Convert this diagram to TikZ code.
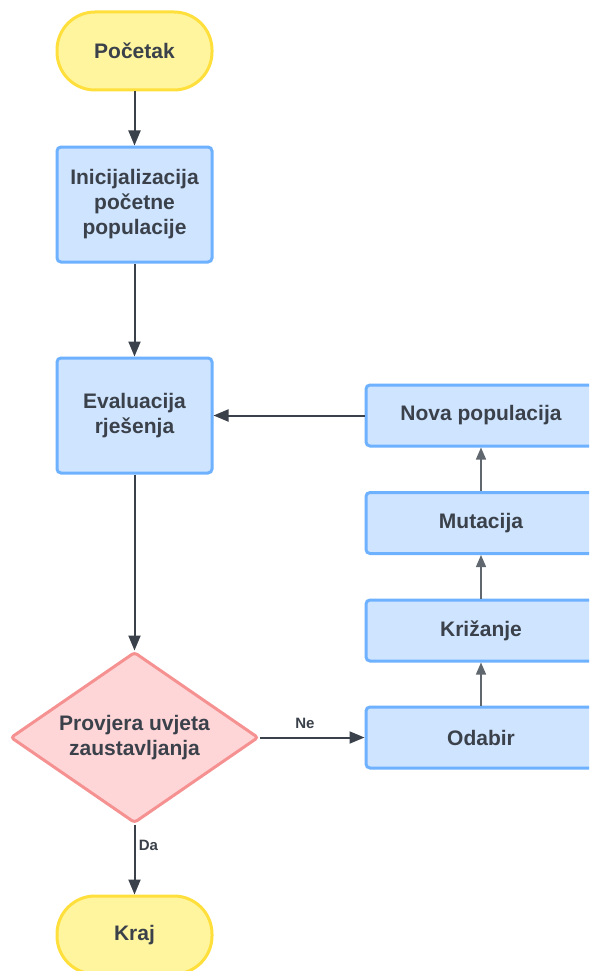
\documentclass[tikz,border=0pt]{standalone}
\usepackage{fontspec}
\setmainfont{Liberation Sans}
\usepackage{xcolor}
\usepackage{tikz}
\usetikzlibrary{arrows.meta,shapes,positioning}
\definecolor{txtgray}{HTML}{3A414A}
\definecolor{termfill}{HTML}{FFF59E}
\definecolor{termline}{HTML}{FFDF3C}
\definecolor{stepfill}{HTML}{CFE4FF}
\definecolor{stepline}{HTML}{6DB1FF}
\definecolor{testfill}{HTML}{FFD6D8}
\definecolor{testline}{HTML}{F59191}
\tikzset{FC style/.style={x=1pt,y=-1pt,font=\bfseries\fontsize{21}{25}\selectfont,text=txtgray,>={Triangle[length=15pt,width=12pt]}},
	terminal/.style={draw=termline,fill=termfill,line width=3pt,rounded corners=38pt,minimum width=155pt,minimum height=78pt},
	stepbox/.style={draw=stepline,fill=stepfill,line width=3pt,rounded corners=4pt,minimum width=155pt,minimum height=115pt,align=center},
	loopbox/.style={draw=stepline,fill=stepfill,line width=3pt,rounded corners=4pt,minimum width=230pt,minimum height=61pt},
	testbox/.style={diamond,aspect=1.45,draw=testline,fill=testfill,line width=3pt,rounded corners=3pt,minimum width=248pt,minimum height=171pt,inner sep=0pt,align=center},
	flow/.style={draw=txtgray,line width=2pt,->},
	loopflow/.style={draw=txtgray!80,line width=1.4pt,-{Triangle[length=12pt,width=10pt]}},
	answer/.style={font=\bfseries\fontsize{15}{17}\selectfont,text=txtgray}}

\begin{document}
\begin{tikzpicture}[FC style]
		\clip (0,0) rectangle (589,971);
		
		\node[terminal] (pocetak) at (134.5,51) {Početak};
		\node[stepbox] (init) at (134.5,204.5) {Inicijalizacija\\početne\\populacije};
		\node[stepbox] (eval) at (134.5,415.5) {Evaluacija\\rješenja};
		\node[testbox] (uvjet) at (134.5,737.5) {Provjera uvjeta\\zaustavljanja};
		\node[terminal] (kraj) at (134.5,935) {Kraj};
		
		\node[loopbox] (odabir) at (481,737.5) {Odabir};
		\node[loopbox] (krizanje) at (481,630.5) {Križanje};
		\node[loopbox] (mutacija) at (481,523) {Mutacija};
		\node[loopbox] (nova) at (481,415.5) {Nova populacija};
		
		\draw[flow] (pocetak) -- (init);
		\draw[flow] (init) -- (eval);
		\draw[flow] (eval) -- (uvjet);
		\draw[flow] (uvjet) -- node[answer,right,pos=0.3] {Da} (kraj);
		\draw[flow] (uvjet.east) -- node[answer,above=5pt,pos=0.43] {Ne} (odabir);
		
		\draw[loopflow] (odabir) -- (krizanje);
		\draw[loopflow] (krizanje) -- (mutacija);
		\draw[loopflow] (mutacija) -- (nova);
		\draw[flow] (nova) -- (eval);
		
	\end{tikzpicture}
\end{document}
